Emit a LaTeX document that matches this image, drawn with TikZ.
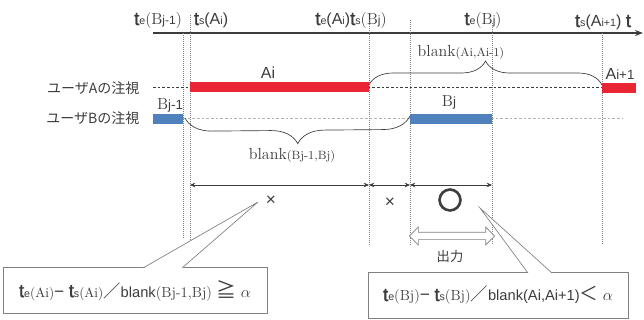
\documentclass[tikz,border=0pt]{standalone}
\usepackage{fontspec}
\setsansfont{Liberation Sans}
\newfontfamily\jp{Noto Sans CJK JP}
\newfontfamily\jpbold[FakeBold=2.5]{Noto Sans CJK JP}
\newfontfamily\tfont[FakeBold=1.5]{Liberation Sans}
\usetikzlibrary{positioning,arrows.meta,decorations.pathreplacing,shapes.arrows}
\definecolor{barred}{RGB}{234,38,52}
\definecolor{barblue}{RGB}{79,129,189}
\definecolor{inkgray}{RGB}{60,60,60}
\newcommand{\fsz}[1]{\fontsize{#1}{#1}\selectfont}
\newcommand{\tsym}[1]{{\tfont\fsz{14}t}{\sffamily\fsz{8}#1}}

\begin{document}
\begin{tikzpicture}[x=0.75pt, y=-0.75pt,
          every node/.style={text=inkgray, inner sep=1pt},
          tlabel/.style={anchor=base, font=\fsz{12}},
          rowlabel/.style={anchor=east, font=\jp\fsz{10.5}},
          barlabel/.style={anchor=base, font=\sffamily\fsz{12}},
          guide/.style={gray, densely dotted, line width=0.5pt},
          brc/.style={decorate, decoration={brace, amplitude=#1},
                      draw=inkgray, line width=0.5pt},
          dim/.style={{Stealth[length=4pt,width=3.5pt]}-{Stealth[length=4pt,width=3.5pt]},
                      draw=inkgray, line width=0.6pt},
          callbox/.style={draw=gray, fill=white, line width=0.5pt,
                          minimum height=34pt, align=center},
          wedge/.style={draw=gray, line width=0.5pt}]
          \useasboundingbox (0,0) rectangle (644,320);
          % time axis
          \draw[inkgray, line width=2pt] (153,33) -- (572,33);
          \draw[inkgray, line width=1pt, -{Stealth[length=6pt]}] (153,33) -- (643,33);
          \node[tlabel] (teBjm) at (158,25) {\tsym{e}(B{\sffamily\fsz{9}j-1})};
          \node[tlabel] (tsAi) at (211,25) {\tsym{s}{\sffamily(A\fsz{8}i\fsz{12})}};
          \node[tlabel] (teAitsBj) at (351,25) {\tsym{e}{\sffamily(A\fsz{8}i\fsz{12})}\tsym{s}(B{\sffamily\fsz{9}j})};
          \node[tlabel] (teBj) at (483,25) {\tsym{e}(B{\sffamily\fsz{9}j})};
          \node[tlabel] (tsAip) at (603,27) {\tsym{s}{\sffamily(A\fsz{8}i+1\fsz{12}) }{\tfont\fsz{14}t}};
          % guides
          \draw[guide] (183,33) -- (183,238);
          \draw[guide] (190,15) -- (190,242);
          \draw[guide] (369,20) -- (369,245);
          \draw[guide] (410,20) -- (410,245);
          \draw[guide] (492,23) -- (492,245);
          \draw[guide] (602,33) -- (602,245);
          % user A
          \node[rowlabel] (rowA) at (141,88) {ユーザAの注視};
          \draw[inkgray, dashed, dash pattern=on 2pt off 1.5pt, line width=0.5pt] (153,87) -- (602,87);
          \fill[barred] (190,82) rectangle (369,92);
          \fill[barred] (602,83) rectangle (636,93);
          \node[barlabel] (Ai) at (268,79) {Ai};
          \node[barlabel] (Aip) at (620,80) {A{\fsz{10}i+1}};
          % user B
          \node[rowlabel] (rowB) at (141,118) {ユーザBの注視};
          \draw[gray!60, dashed, dash pattern=on 2pt off 1.5pt, line width=0.5pt] (183,118) -- (623,118);
          \fill[barblue] (153,114) rectangle (183,124);
          \fill[barblue] (410,114) rectangle (492,124);
          \node[anchor=base, font=\fsz{12}] (Bjm) at (170,110) {B{\sffamily\fsz{10}j-1}};
          \node[anchor=base, font=\fsz{12}] (Bj) at (449,107) {B{\sffamily\fsz{10}j}};
          % blanks
          \draw[brc=20pt] (410,116) -- (185,118);
          \node[font=\fsz{12}] (blankB) at (292,155) {blank{\fsz{9}(Bj-1,Bj)}};
          \draw[brc=18pt] (369,85) -- (602,85);
          \node[font=\fsz{12}] (blankA) at (461,52) {blank{\fsz{9}(Ai,Ai-1)}};
          % judgement
          \coordinate (d0) at (190,185);
          \coordinate (d1) at (369,185);
          \coordinate (d2) at (410,185);
          \coordinate (d3) at (492,185);
          \draw[dim] (d0) -- (d1);
          \draw[dim] (d1) -- (d2);
          \draw[dim] (d2) -- (d3);
          \node[font=\sffamily\fsz{13}] (ng1) at (271,201) {×};
          \node[font=\sffamily\fsz{13}] (ng2) at (390,203) {×};
          \node[font=\jpbold\fsz{19}] (ok) at (450,200) {〇};
          \node[double arrow, draw=gray, fill=white, line width=0.5pt, inner sep=2.5pt,
                minimum height=64pt, minimum width=12pt, double arrow head extend=4pt]
                (out) at (452,236) {};
          \node[font=\jp\fsz{10}] (outlbl) at (450,256) {出力};
          % callouts
          \node[callbox, minimum width=198pt] (cond1) at (135,290.5)
                {\tsym{e}{\fsz{10}(Ai)}{\sffamily\fsz{13}−} \tsym{s}{\fsz{10}(Ai)}{\jp\fsz{13}／}{\sffamily\fsz{11}blank}{\fsz{11}(Bj-1,Bj)} {\jp\fsz{15}≧} {\fsz{13}$\alpha$}};
          \node[callbox, minimum width=195pt] (cond2) at (498,295.5)
                {\tsym{e}{\fsz{11}(Bj)}{\sffamily\fsz{13}−} \tsym{s}{\fsz{11}(Bj)}{\jp\fsz{13}／}{\sffamily\fsz{11}blank(Ai,Ai+1)}{\jp\fsz{14}＜} {\fsz{13}$\alpha$}};
          \coordinate (tip1) at (258,202);
          \coordinate (tip2) at (480,208);
          \fill[white] (143,268.6) -- (tip1) -- (182,268.6) -- cycle;
          \draw[wedge] (143,268) -- (tip1) -- (182,268);
          \fill[white] (528,273.6) -- (tip2) -- (552,273.6) -- cycle;
          \draw[wedge] (528,273) -- (tip2) -- (552,273);
        \end{tikzpicture}
\end{document}
